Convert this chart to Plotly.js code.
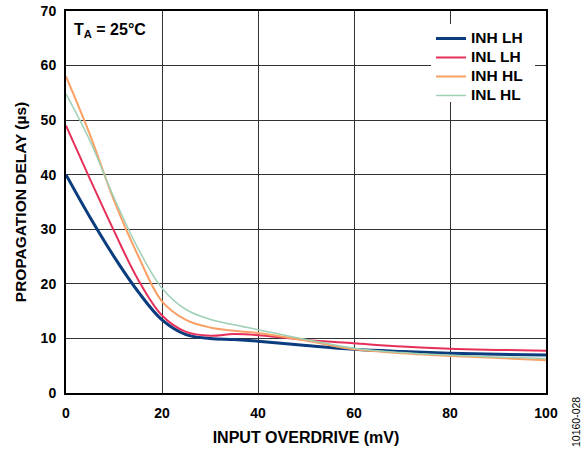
<!DOCTYPE html>
<html>
<head>
<meta charset="utf-8">
<script src="https://cdn.plot.ly/plotly-3.0.1.min.js"></script>
<style>
html,body{margin:0;padding:0;background:#fff;}
#chart{width:581px;height:450px;}
#chart .legend .legendtext{font-size:15.5px !important;}
#chart .legend .scrollbox{clip-path:none !important;}
#chart .legend rect.bg{width:104px !important;height:78px !important;}
</style>
</head>
<body>
<div id="chart"></div>
<script>
var overdrive = [0, 5, 10, 15, 20, 25, 30, 35, 40, 50, 60, 70, 80, 90, 100];
var inhLH = [40, 32.2, 25, 18.6, 13.4, 10.7, 10.0, 9.8, 9.5, 8.7, 8.0, 7.6, 7.3, 7.1, 6.95];
var inlLH = [49, 39.2, 29.7, 20.8, 14.2, 11.2, 10.5, 10.8, 10.6, 9.7, 9.1, 8.5, 8.1, 7.9, 7.75];
var inhHL = [58, 47.3, 35.3, 25.2, 16.8, 13.4, 12.0, 11.4, 11.0, 9.6, 8.0, 7.3, 6.8, 6.4, 6.0];
var inlHL = [54.8, 46.2, 35.8, 26.5, 19.2, 15.3, 13.5, 12.5, 11.6, 9.8, 8.2, 7.4, 6.9, 6.6, 6.3];
var seriesNames = ["INH LH", "INL LH", "INH HL", "INL HL"];

var F = "Liberation Sans, Arial, sans-serif";
function tr(y, name, color, w) {
  return {x: overdrive, y: y, name: name, type: "scatter", mode: "lines",
    line: {color: color, width: w, shape: "spline", smoothing: 1}};
}
var data = [
  tr(inhLH, seriesNames[0], "#0b3d7e", 3),
  tr(inlLH, seriesNames[1], "#e6305a", 2),
  tr(inhHL, seriesNames[2], "#f9a066", 2),
  tr(inlHL, seriesNames[3], "#9ed0b4", 1.5)
];
var layout = {
  width: 581, height: 450,
  margin: {l: 66, r: 35, t: 11, b: 57},
  paper_bgcolor: "#fff", plot_bgcolor: "#fff",
  showlegend: true,
  legend: {x: 0.7604, y: 0.966, xanchor: "left", yanchor: "top", bgcolor: "#fff", borderwidth: 0,
    font: {family: F, size: 11, color: "#000", weight: "bold"}, tracegroupgap: 0, itemwidth: 30},
  xaxis: {range: [0, 100], dtick: 20, showgrid: true, gridcolor: "#333", gridwidth: 1,
    showline: true, linecolor: "#000", linewidth: 2, mirror: true, zeroline: false, ticks: "",
    ticklabelstandoff: 6,
    tickfont: {family: F, size: 14, color: "#000", weight: "bold"},
    title: {text: "INPUT OVERDRIVE (mV)", font: {family: F, size: 16, color: "#000", weight: "bold"}, standoff: 12}},
  yaxis: {range: [0, 70], dtick: 10, showgrid: true, gridcolor: "#333", gridwidth: 1,
    showline: true, linecolor: "#000", linewidth: 2, mirror: true, zeroline: false, ticks: "",
    ticklabelstandoff: 5,
    tickfont: {family: F, size: 14, color: "#000", weight: "bold"},
    title: {text: "PROPAGATION DELAY (µs)", font: {family: F, size: 15.5, color: "#000", weight: "bold"}, standoff: 10}},
  annotations: [
    {xref: "paper", yref: "paper", x: 0.013, y: 0.948, xanchor: "left", yanchor: "middle", showarrow: false,
      text: "T<sub>A</sub> = 25°C", font: {family: F, size: 16, color: "#000", weight: "bold"}},
    {xref: "paper", yref: "paper", x: 1.0625, y: -0.076, xanchor: "center", yanchor: "middle", showarrow: false,
      textangle: -90, text: "10160-028", font: {family: F, size: 10.5, color: "#000"}}
  ]
};
Plotly.newPlot("chart", data, layout, {displayModeBar: false, staticPlot: true});
</script>
</body>
</html>
